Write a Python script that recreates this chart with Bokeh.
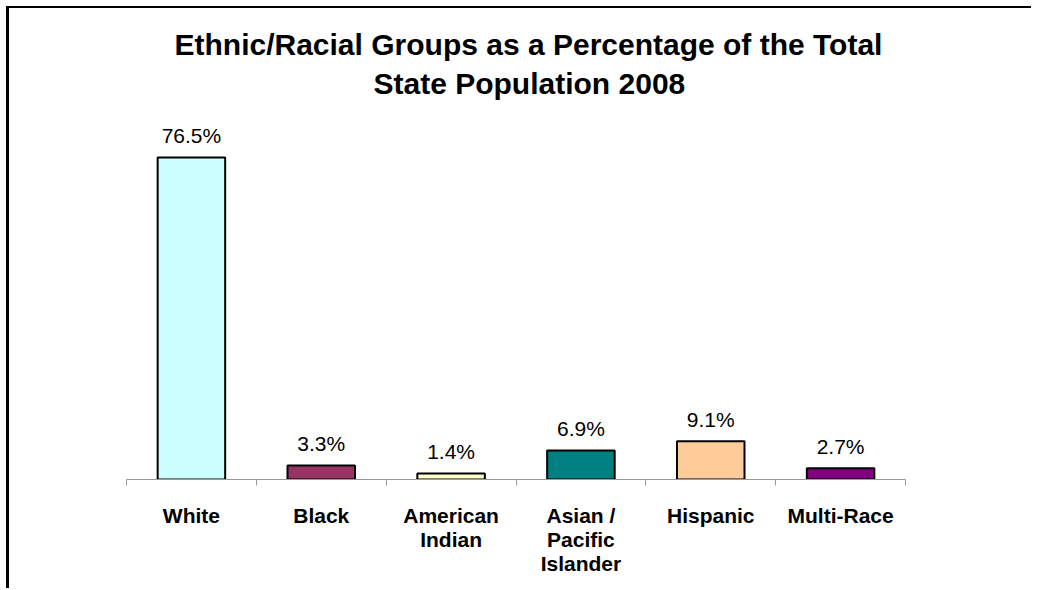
from bokeh.plotting import figure
from bokeh.models import (FactorRange, Range1d, LinearAxis, FixedTicker,
                          ColumnDataSource, Title)
from bokeh.embed import file_html
from bokeh.resources import INLINE
from bokeh.core.properties import value

categories = ["White", "Black", "American Indian", "Asian / Pacific Islander",
              "Hispanic", "Multi-Race"]
# tick labels, split into the lines the reference wraps them onto
label_line1 = {"White": "White", "Black": "Black", "American Indian": "American",
               "Asian / Pacific Islander": "Asian /", "Hispanic": "Hispanic",
               "Multi-Race": "Multi-Race"}
label_line2 = {"American Indian": "Indian", "Asian / Pacific Islander": "Pacific"}
label_line3 = {"Asian / Pacific Islander": "Islander"}
percentages = [76.5, 3.3, 1.4, 6.9, 9.1, 2.7]
value_labels = ["76.5%", "3.3%", "1.4%", "6.9%", "9.1%", "2.7%"]
bar_colors = ["#CCFFFF", "#993366", "#FFFFCC", "#008080", "#FFCC99", "#800080"]
title_line1 = "Ethnic/Racial Groups as a Percentage of the Total"
title_line2 = "State Population 2008"

FONT = "Liberation Sans"

source = ColumnDataSource(dict(cat=categories, pct=percentages,
                               lbl=value_labels, color=bar_colors))

p = figure(width=1025, height=582,
           x_range=FactorRange(*categories), y_range=Range1d(0, 87.7),
           output_backend="svg", toolbar_location=None,
           x_axis_location=None, y_axis_location=None, title_location=None,
           min_border_left=117, min_border_right=129,
           min_border_top=102, min_border_bottom=111)

p.background_fill_color = "white"
p.border_fill_color = "white"
p.outline_line_color = None
p.xgrid.visible = False
p.ygrid.visible = False
p.styles = {"border-top": "2px solid black", "border-left": "3px solid black",
            "margin-left": "6px", "margin-top": "6px"}

# two centred title lines (added nearest-first)
t2 = Title(text=title_line2, align="left", offset=247, standoff=21,
           text_font=FONT, text_font_size="30px", text_font_style="bold",
           text_color="black")
t1 = Title(text=title_line1, align="left", offset=48, standoff=-12,
           text_font=FONT, text_font_size="30px", text_font_style="bold",
           text_color="black")
p.add_layout(t2, "above")
p.add_layout(t1, "above")

p.vbar(x="cat", top="pct", width=0.52, source=source,
       fill_color="color", line_color="black", line_width=2)

p.text(x="cat", y="pct", text="lbl", source=source,
       text_align="center", text_baseline="alphabetic", y_offset=-22,
       text_font=value(FONT), text_font_size="21px", text_color="black")

# category boundary ticks (synthetic coordinates of the factor range)
boundary_ticks = list(range(len(categories) + 1))
bound_axis = LinearAxis(ticker=FixedTicker(ticks=boundary_ticks, minor_ticks=[]),
                        axis_line_color="#999999", axis_line_width=1,
                        major_tick_line_color="#999999", major_tick_in=0,
                        major_tick_out=6, minor_tick_in=0, minor_tick_out=0,
                        major_label_text_color=None,
                        major_label_text_font_size="1px", major_label_standoff=0)
p.add_layout(bound_axis, "below")

label_style = dict(axis_line_color=None, major_tick_line_color=None,
                   minor_tick_line_color=None, minor_tick_out=0,
                   major_label_text_font=FONT, major_label_text_font_size="21px",
                   major_label_text_font_style="bold",
                   major_label_text_color="black")


def centre(cat):
    return categories.index(cat) + 0.5


for lines, standoff in ((label_line1, 12), (label_line2, -8), (label_line3, -8)):
    axis = LinearAxis(ticker=FixedTicker(ticks=[centre(c) for c in lines],
                                         minor_ticks=[]),
                      major_label_overrides={centre(c): t for c, t in lines.items()},
                      major_label_standoff=standoff, **label_style)
    p.add_layout(axis, "below")

open("out.html", "w").write(file_html(p, INLINE))
